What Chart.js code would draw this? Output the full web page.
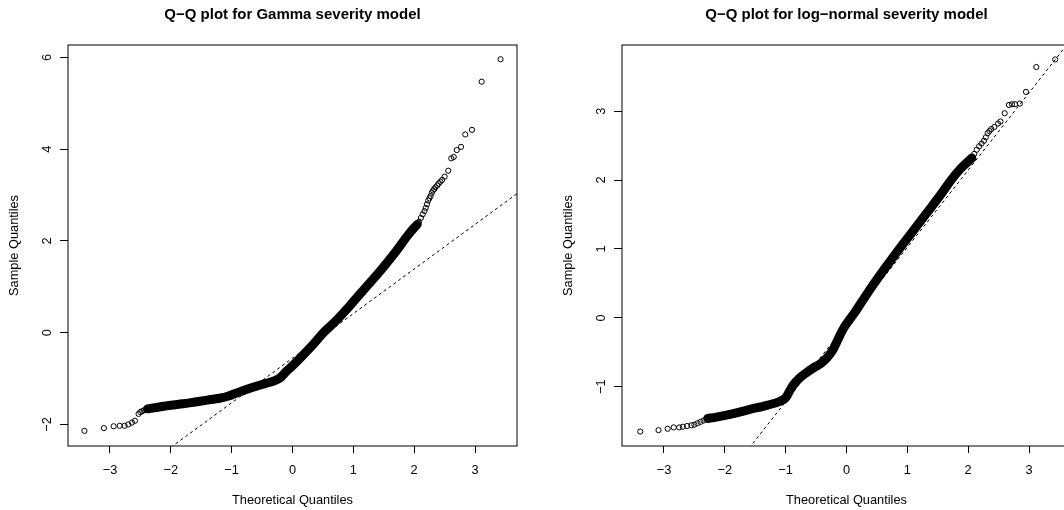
<!DOCTYPE html>
<html>
<head>
<meta charset="utf-8">
<script src="https://cdn.jsdelivr.net/npm/chart.js@4.4.1/dist/chart.umd.min.js"></script>
<style>
  html, body { margin: 0; padding: 0; background: #fff; overflow: hidden; }
  #wrap { position: relative; width: 1064px; height: 510px; overflow: hidden; }
  canvas { position: absolute; top: 0; }
</style>
</head>
<body>
<div id="wrap">
  <canvas id="gamma" width="554" height="510" style="left:0"></canvas>
  <canvas id="lognorm" width="554" height="510" style="left:554px"></canvas>
</div>
<script>
// tick labels
const xTicks = [-3, -2, -1, 0, 1, 2, 3];
const gammaYTicks = [-2, 0, 2, 4, 6];
const lognormYTicks = [-1, 0, 1, 2, 3];

// Gamma model: separate points in both tails
const gammaPtsX = [-3.42, -3.10, -2.94, -2.84, -2.76, -2.70, -2.64, -2.59, -2.53, -2.50, -2.47, -2.44, -2.41,
  2.08, 2.11, 2.14, 2.17, 2.19, 2.21, 2.23, 2.25, 2.27, 2.29, 2.31, 2.33, 2.35, 2.38, 2.40, 2.43, 2.46,
  2.50, 2.56, 2.61, 2.65, 2.70, 2.77, 2.84, 2.95, 3.11, 3.42];
const gammaPtsY = [-2.14, -2.08, -2.04, -2.03, -2.03, -2.00, -1.96, -1.92, -1.77, -1.73, -1.71, -1.69, -1.67,
  2.42, 2.50, 2.58, 2.65, 2.72, 2.80, 2.88, 2.93, 2.98, 3.05, 3.10, 3.13, 3.17, 3.21, 3.25, 3.29, 3.33,
  3.40, 3.53, 3.80, 3.83, 3.98, 4.05, 4.32, 4.42, 5.47, 5.96];
// Gamma model: the dense middle, where the points merge into a band
const gammaBandX = [-2.38, -2.24, -2.00, -1.80, -1.60, -1.40, -1.20, -1.05, -0.95, -0.85, -0.65, -0.45,
  -0.30, -0.20, -0.10, 0.00, 0.15, 0.35, 0.51, 0.70, 0.95, 1.20, 1.45, 1.70, 1.90, 2.05];
const gammaBandY = [-1.66, -1.63, -1.58, -1.55, -1.51, -1.47, -1.43, -1.38, -1.33, -1.28, -1.19, -1.11,
  -1.05, -0.98, -0.84, -0.72, -0.52, -0.24, 0.00, 0.24, 0.60, 0.98, 1.36, 1.77, 2.13, 2.36];
// qqline end points
const gammaLineX = [-2.00, 3.70];
const gammaLineY = [-2.50, 3.04];

// log-normal model
const lognormPtsX = [-3.39, -3.09, -2.94, -2.84, -2.75, -2.69, -2.62, -2.55, -2.50, -2.45, -2.40, -2.35, -2.30,
  2.10, 2.14, 2.18, 2.22, 2.26, 2.29, 2.32, 2.35, 2.38, 2.43, 2.49, 2.53, 2.60, 2.67, 2.72, 2.77, 2.85,
  2.95, 3.12, 3.43];
const lognormPtsY = [-1.65, -1.63, -1.61, -1.59, -1.59, -1.58, -1.57, -1.56, -1.55, -1.53, -1.51, -1.49, -1.47,
  2.38, 2.44, 2.49, 2.53, 2.57, 2.62, 2.68, 2.71, 2.74, 2.77, 2.82, 2.85, 2.97, 3.09, 3.10, 3.10, 3.11,
  3.28, 3.64, 3.75];
const lognormBandX = [-2.28, -2.14, -1.86, -1.59, -1.31, -1.09, -1.00, -0.94, -0.88, -0.78, -0.65, -0.55,
  -0.42, -0.32, -0.22, -0.16, -0.10, -0.04, 0.03, 0.13, 0.33, 0.55, 0.80, 1.05, 1.30, 1.55, 1.72, 1.87, 2.06];
const lognormBandY = [-1.46, -1.44, -1.39, -1.33, -1.27, -1.21, -1.16, -1.07, -0.98, -0.88, -0.79, -0.73,
  -0.66, -0.58, -0.46, -0.35, -0.24, -0.14, -0.05, 0.07, 0.34, 0.62, 0.92, 1.21, 1.50, 1.79, 2.00, 2.16, 2.32];
const lognormLineX = [-1.60, 3.70];
const lognormLineY = [-1.89, 4.05];

const fontFam = '"Liberation Sans", Arial, Helvetica, sans-serif';

function pts(xs, ys) {
  return xs.map((x, i) => ({x: x, y: ys[i]}));
}

function fmt(v) {
  return v < 0 ? '\u2212' + Math.abs(v) : String(v);
}

// box, titles and R-style rotated y labels
const rText = {
  id: 'rText',
  afterDraw(chart, args, opts) {
    const ctx = chart.ctx;
    const a = chart.chartArea;
    const xs = chart.scales.x, ys = chart.scales.y;
    const cx = (a.left + a.right) / 2;
    ctx.save();
    ctx.strokeStyle = '#000';
    ctx.lineWidth = 1;
    ctx.strokeRect(a.left, a.top, a.right - a.left, a.bottom - a.top);

    ctx.fillStyle = '#000';
    ctx.textAlign = 'center';
    ctx.textBaseline = 'alphabetic';
    ctx.font = 'bold 15px ' + fontFam;
    ctx.fillText(opts.title, cx, 19);

    ctx.font = '12.8px ' + fontFam;
    xTicks.forEach(v => ctx.fillText(fmt(v), xs.getPixelForValue(v), 474));
    ctx.fillText('Theoretical Quantiles', cx, 504);

    opts.yTicks.forEach(v => {
      ctx.save();
      ctx.translate(a.left - 17, ys.getPixelForValue(v));
      ctx.rotate(-Math.PI / 2);
      ctx.fillText(fmt(v), 0, 0);
      ctx.restore();
    });
    ctx.translate(18.3, (a.top + a.bottom) / 2);
    ctx.rotate(-Math.PI / 2);
    ctx.fillText('Sample Quantiles', 0, 0);
    ctx.restore();
  }
};

function qqChart(id, title, ptsX, ptsY, bandX, bandY, lineX, lineY, yTicks, yMin, yMax) {
  return new Chart(document.getElementById(id), {
    type: 'scatter',
    data: {
      datasets: [{
        data: pts(lineX, lineY),
        showLine: true,
        borderColor: '#000',
        borderWidth: 1,
        borderDash: [3, 3],
        pointRadius: 0,
        clip: 0
      }, {
        data: pts(ptsX, ptsY),
        pointRadius: 2.6,
        pointBorderWidth: 1,
        pointBorderColor: '#000',
        pointBackgroundColor: 'rgba(0,0,0,0)'
      }, {
        data: pts(bandX, bandY),
        showLine: true,
        borderColor: '#000',
        borderWidth: 9,
        borderCapStyle: 'round',
        borderJoinStyle: 'round',
        cubicInterpolationMode: 'monotone',
        pointRadius: 0
      }]
    },
    options: {
      responsive: false,
      animation: false,
      devicePixelRatio: 1,
      layout: { padding: { top: 45, right: 37, left: 0, bottom: 0 } },
      plugins: {
        legend: { display: false },
        tooltip: { enabled: false },
        rText: { title: title, yTicks: yTicks }
      },
      scales: {
        x: {
          type: 'linear',
          min: -3.69,
          max: 3.69,
          afterBuildTicks: s => { s.ticks = xTicks.map(v => ({value: v})); },
          afterFit: s => { s.height = 64; },
          ticks: { display: false },
          border: { display: false },
          grid: { drawOnChartArea: false, drawTicks: true, tickLength: 7, color: '#000' }
        },
        y: {
          type: 'linear',
          min: yMin,
          max: yMax,
          afterBuildTicks: s => { s.ticks = yTicks.map(v => ({value: v})); },
          afterFit: s => { s.width = 68; },
          ticks: { display: false },
          border: { display: false },
          grid: { drawOnChartArea: false, drawTicks: true, tickLength: 8, color: '#000' }
        }
      }
    },
    plugins: [rText]
  });
}

qqChart('gamma', 'Q\u2212Q plot for Gamma severity model',
  gammaPtsX, gammaPtsY, gammaBandX, gammaBandY, gammaLineX, gammaLineY, gammaYTicks, -2.47, 6.27);
qqChart('lognorm', 'Q\u2212Q plot for log\u2212normal severity model',
  lognormPtsX, lognormPtsY, lognormBandX, lognormBandY, lognormLineX, lognormLineY, lognormYTicks, -1.86, 3.96);
</script>
</body>
</html>
